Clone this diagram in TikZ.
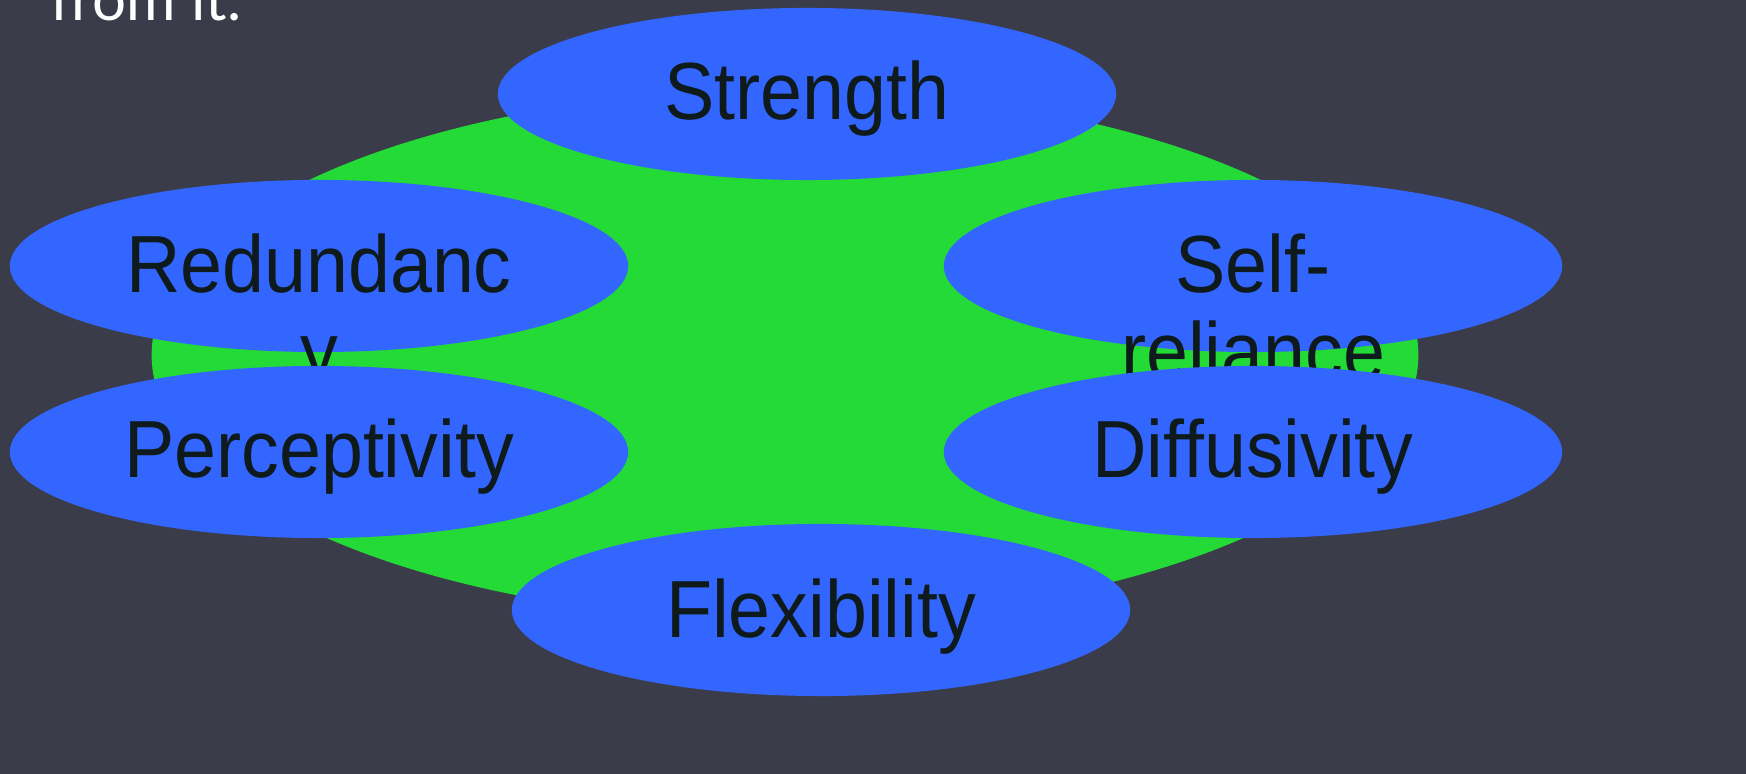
\documentclass[tikz,border=0pt]{standalone}
\usepackage{fontspec}
\usetikzlibrary{shapes.geometric}
\newfontfamily\lblfamily[FakeStretch=0.93]{Liberation Sans}
\newfontfamily\topfamily{Lato}
\definecolor{bgC}{HTML}{3B3C4A}
\definecolor{greenC}{HTML}{24DA36}
\definecolor{blueC}{HTML}{3366FF}
\definecolor{textC}{HTML}{0E1A1C}
\tikzset{
  oval/.style={ellipse, fill=blueC, minimum width=6.18cm, minimum height=1.72cm, inner sep=0pt},
  lbl/.style={font=\lblfamily\fontsize{0.81cm}{0.87cm}\selectfont, text=textC, anchor=base, inner sep=0pt, align=center},
}
\begin{document}
\begin{tikzpicture}[x=0.01cm,y=-0.01cm]
\path[use as bounding box, clip] (0,0) rectangle (1746,774);
\fill[bgC] (0,0) rectangle (1746,774);
\node[font=\topfamily\fontsize{0.6cm}{0.7cm}\selectfont, text=white, anchor=base west, inner sep=0pt] (top) at (50,21) {from it.};
\node[ellipse, fill=greenC, minimum width=12.66cm, minimum height=5.3cm, inner sep=0pt] (core) at (785,355) {};
\node[oval] (S) at (807,94) {};
\node[lbl] (St) at (807,120) {Strength};
\node[oval] (R) at (319,266) {};
\node[lbl] (Rt) at (319,380) {Redundanc\\y};
\node[oval] (SR) at (1253,266) {};
\node[lbl] (SRt) at (1253,380) {Self-\\reliance};
\node[oval] (P) at (319,452) {};
\node[lbl] (Pt) at (319,478) {Perceptivity};
\node[oval] (D) at (1253,452) {};
\node[lbl] (Dt) at (1253,478) {Diffusivity};
\node[oval] (F) at (821,610) {};
\node[lbl] (Ft) at (821,638) {Flexibility};
\end{tikzpicture}
\end{document}
